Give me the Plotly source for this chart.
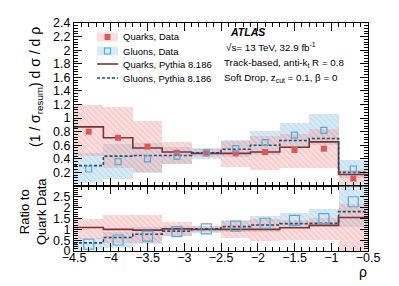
import plotly.graph_objects as go
import numpy as np

# ---------------- data ----------------
bin_edges = [-4.5, -4.1, -3.7, -3.3, -2.9, -2.5, -2.1, -1.7, -1.3, -0.9, -0.5]
quark_data = [0.80, 0.71, 0.58, 0.49, 0.48, 0.48, 0.50, 0.53, 0.55, 0.11]
quark_data_lo = [0.44, 0.26, 0.21, 0.33, 0.42, 0.28, 0.24, 0.27, 0.27, 0.00]
quark_data_hi = [1.20, 1.17, 0.96, 0.65, 0.55, 0.66, 0.74, 0.77, 0.84, 0.24]
gluon_data = [0.25, 0.36, 0.40, 0.44, 0.49, 0.55, 0.64, 0.75, 0.82, 0.25]
gluon_data_lo = [0.05, 0.10, 0.19, 0.33, 0.40, 0.42, 0.45, 0.58, 0.60, 0.12]
gluon_data_hi = [0.48, 0.62, 0.63, 0.57, 0.56, 0.68, 0.81, 0.93, 1.06, 0.38]
quark_pythia = [0.87, 0.71, 0.56, 0.50, 0.48, 0.48, 0.50, 0.57, 0.65, 0.17]
gluon_pythia = [0.30, 0.44, 0.45, 0.45, 0.49, 0.54, 0.60, 0.67, 0.70, 0.20]

x_ticks = [-4.5, -4, -3.5, -3, -2.5, -2, -1.5, -1, -0.5]
x_tick_text = ["\u22124.5", "\u22124", "\u22123.5", "\u22123", "\u22122.5", "\u22122",
               "\u22121.5", "\u22121", "\u22120.5"]
y_ticks_top = [0.2, 0.4, 0.6, 0.8, 1.0, 1.2, 1.4, 1.6, 1.8, 2.0, 2.2, 2.4]
y_ticks_bot = [0, 0.5, 1, 1.5, 2, 2.5]

edges = np.array(bin_edges)
centers = 0.5 * (edges[:-1] + edges[1:])
widths = np.diff(edges)
qd = np.array(quark_data)

def ratio(a):
    return np.array(a) / qd

RED_BG = "rgba(244,165,165,0.36)"
RED_FG = "rgba(232,140,140,0.30)"
BLUE_BG = "rgba(160,205,232,0.40)"
BLUE_FG = "rgba(130,185,220,0.30)"
RED_MK = "#df5656"
BLUE_MK = "#5aa8d6"
Q_LINE = "#803232"
G_LINE = "#1d4f6e"

FONT = "Liberation Sans, Arial, Helvetica, sans-serif"

fig = go.Figure()

def band(lo, hi, bg, fg, xa, ya):
    lo = np.array(lo); hi = np.array(hi)
    fig.add_trace(go.Bar(
        x=centers, y=hi - lo, base=lo, width=widths,
        marker=dict(color=bg, line=dict(width=0),
                    pattern=dict(shape="\\", fgcolor=fg, bgcolor=bg, size=4, solidity=0.3)),
        xaxis=xa, yaxis=ya, showlegend=False, hoverinfo="skip"))

def step(vals, color, dash, xa, ya):
    v = list(vals) + [vals[-1]]
    fig.add_trace(go.Scatter(
        x=edges, y=v, mode="lines", line=dict(shape="hv", color=color, width=1.6, dash=dash),
        xaxis=xa, yaxis=ya, showlegend=False, hoverinfo="skip"))

# ---- top pane ----
band(gluon_data_lo, gluon_data_hi, BLUE_BG, BLUE_FG, "x", "y")
band(quark_data_lo, quark_data_hi, RED_BG, RED_FG, "x", "y")
step(quark_pythia, Q_LINE, "solid", "x", "y")
step(gluon_pythia, G_LINE, "3px,2px", "x", "y")
fig.add_trace(go.Scatter(x=centers, y=quark_data, mode="markers",
                         marker=dict(symbol="square", size=6, color=RED_MK),
                         xaxis="x", yaxis="y", showlegend=False))
fig.add_trace(go.Scatter(x=centers, y=gluon_data, mode="markers",
                         marker=dict(symbol="square-open", size=6, color=BLUE_MK, line=dict(width=1.2)),
                         xaxis="x", yaxis="y", showlegend=False))

# ---- ratio pane ----
band(ratio(gluon_data_lo), ratio(gluon_data_hi), BLUE_BG, BLUE_FG, "x2", "y2")
band(ratio(quark_data_lo), ratio(quark_data_hi), RED_BG, RED_FG, "x2", "y2")
step(list(ratio(quark_pythia)), Q_LINE, "solid", "x2", "y2")
step(list(ratio(gluon_pythia)), G_LINE, "3px,2px", "x2", "y2")
fig.add_trace(go.Scatter(x=centers, y=ratio(gluon_data), mode="markers",
                         marker=dict(symbol="square-open", size=10, color=BLUE_MK, line=dict(width=1.2)),
                         xaxis="x2", yaxis="y2", showlegend=False))

# ---------------- layout ----------------
W, H = 399, 286
L, R, T, B = 74, 31, 23, 35
PW, PH = W - L - R, H - T - B
split = (251 - 186) / PH

def px(x):
    return (x - L) / PW

def py(y):
    return (H - B - y) / PH

common_x = dict(range=[-4.5, -0.5], ticks="inside", ticklen=8, tickwidth=1, tickcolor="black",
                showline=True, linecolor="black", linewidth=1, mirror="allticks",
                showgrid=False, zeroline=False, tickvals=x_ticks, automargin=False,
                minor=dict(dtick=0.1, tick0=-4.5, ticks="inside", ticklen=4, tickcolor="black", showgrid=False))
common_y = dict(ticks="inside", ticklen=8, tickwidth=1, tickcolor="black",
                showline=True, linecolor="black", linewidth=1, mirror="allticks",
                showgrid=False, zeroline=False, automargin=False, tickfont=dict(size=12.5))

fig.update_layout(
    template="none",
    width=W, height=H, margin=dict(l=L, r=R, t=T, b=B, autoexpand=False),
    paper_bgcolor="white", plot_bgcolor="white",
    barmode="overlay", bargap=0, showlegend=False,
    font=dict(family=FONT, size=12, color="black"),
    xaxis=dict(**common_x, anchor="y", showticklabels=False, domain=[0, 1]),
    xaxis2=dict(**common_x, anchor="y2", matches="x", showticklabels=True, domain=[0, 1],
                ticktext=x_tick_text, tickfont=dict(size=12.5), ticklabelstandoff=-5),
    yaxis=dict(**common_y, domain=[split, 1], range=[0, 2.4], anchor="x", tickvals=y_ticks_top,
               ticktext=[("%g" % v) for v in y_ticks_top],
               minor=dict(dtick=0.04, tick0=0, ticks="inside", ticklen=4, tickcolor="black", showgrid=False)),
    yaxis2=dict(**common_y, domain=[0, split], range=[0, 3], anchor="x2", tickvals=y_ticks_bot,
                ticktext=[("%g" % v) for v in y_ticks_bot],
                minor=dict(dtick=0.1, tick0=0, ticks="inside", ticklen=4, tickcolor="black", showgrid=False)),
)

ann = []
shapes = []

# axis titles
ann.append(dict(x=px(36), y=py(87), xref="paper", yref="paper", textangle=-90,
                text="(1 / \u03c3<sub>resum</sub>) d \u03c3 / d \u03c1", showarrow=False,
                font=dict(size=14), xanchor="center", yanchor="middle"))
ann.append(dict(x=px(33), y=py(212), xref="paper", yref="paper", textangle=-90,
                text="Ratio to<br>Quark Data", showarrow=False,
                font=dict(size=13), xanchor="center", yanchor="middle"))
ann.append(dict(x=px(369), y=py(272), xref="paper", yref="paper",
                text="\u03c1", showarrow=False, font=dict(size=14),
                xanchor="right", yanchor="middle"))

# legend (drawn)
leg_rows = [37, 51, 64, 78]
leg_text = ["Quarks, Data", "Gluons, Data", "Quarks, Pythia 8.186", "Gluons, Pythia 8.186"]
for yy, t in zip(leg_rows, leg_text):
    ann.append(dict(x=px(121), y=py(yy), xref="paper", yref="paper", text=t, showarrow=False,
                    font=dict(size=9.5), xanchor="left", yanchor="middle"))
for yy, bg, fg in [(leg_rows[0], RED_BG, RED_FG), (leg_rows[1], BLUE_BG, BLUE_FG)]:
    shapes.append(dict(type="rect", xref="paper", yref="paper", x0=px(97), x1=px(118),
                       y0=py(yy + 4.5), y1=py(yy - 4.5), fillcolor=bg, line=dict(width=0)))
shapes.append(dict(type="rect", xref="paper", yref="paper", x0=px(104.5), x1=px(110.5),
                   y0=py(leg_rows[0] + 3), y1=py(leg_rows[0] - 3), fillcolor=RED_MK, line=dict(width=0)))
shapes.append(dict(type="rect", xref="paper", yref="paper", x0=px(104.5), x1=px(110.5),
                   y0=py(leg_rows[1] + 3), y1=py(leg_rows[1] - 3), fillcolor="rgba(0,0,0,0)",
                   line=dict(width=1.2, color=BLUE_MK)))
shapes.append(dict(type="line", xref="paper", yref="paper", x0=px(97), x1=px(118),
                   y0=py(leg_rows[2]), y1=py(leg_rows[2]), line=dict(color=Q_LINE, width=1.6)))
shapes.append(dict(type="line", xref="paper", yref="paper", x0=px(97), x1=px(118),
                   y0=py(leg_rows[3]), y1=py(leg_rows[3]), line=dict(color=G_LINE, width=1.6, dash="3px,2px")))

# ATLAS label
ann.append(dict(x=px(228), y=py(32), xref="paper", yref="paper", text="<b><i>ATLAS</i></b>",
                showarrow=False, font=dict(size=10.5), xanchor="left", yanchor="middle"))
ann.append(dict(x=px(224), y=py(47), xref="paper", yref="paper",
                text="\u221as= 13 TeV, 32.9 fb<sup>-1</sup>",
                showarrow=False, font=dict(size=9.8), xanchor="left", yanchor="middle"))
ann.append(dict(x=px(222), y=py(63), xref="paper", yref="paper",
                text="Track-based, anti-k<sub>t</sub> R = 0.8",
                showarrow=False, font=dict(size=9.8), xanchor="left", yanchor="middle"))
ann.append(dict(x=px(222), y=py(78), xref="paper", yref="paper",
                text="Soft Drop, z<sub>cut</sub> = 0.1, \u03b2 = 0",
                showarrow=False, font=dict(size=9.8), xanchor="left", yanchor="middle"))

fig.update_layout(annotations=ann, shapes=shapes)
fig.write_html("out.html", config={"displayModeBar": False},
               post_script="document.body.style.margin='0';document.body.style.overflow='hidden';")
